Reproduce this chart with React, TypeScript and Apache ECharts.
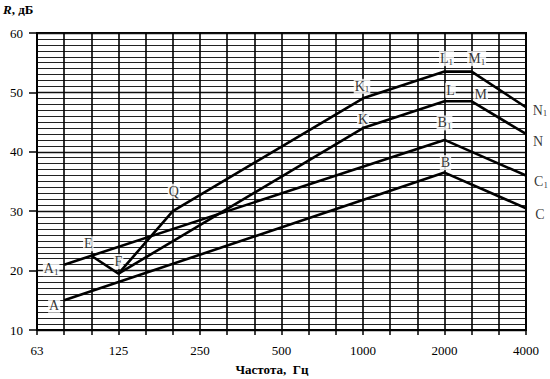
import React, { useEffect, useRef } from 'react';
import * as echarts from 'echarts';

// ---- data ----
const xTickLabels = ['63', '125', '250', '500', '1000', '2000', '4000'];

const curveUpperNames = ['E', 'F', 'Q', 'K1', 'L1', 'M1', 'N1'];
const curveUpperFreqs = [100, 125, 200, 1000, 2000, 2500, 4000];
const curveUpperValues = [22.5, 19.5, 30, 49, 53.5, 53.5, 47.5];

const curveLowerNames = ['F', 'K', 'L', 'M', 'N'];
const curveLowerFreqs = [125, 1000, 2000, 2500, 4000];
const curveLowerValues = [19.5, 44, 48.5, 48.5, 43];

const curveA1Names = ['A1', 'B1', 'C1'];
const curveA1Freqs = [80, 2000, 4000];
const curveA1Values = [21, 42, 36];

const curveANames = ['A', 'B', 'C'];
const curveAFreqs = [80, 2000, 4000];
const curveAValues = [15, 36.5, 30.5];

// ---- label placement (style, not data) ----
const labelOffsets: Record<string, [number, number]> = {
  A: [-10, 5],
  A1: [-13, 4],
  E: [-3, -12],
  F: [0, -12],
  Q: [1, -20],
  K1: [-1, -12],
  K: [0, -9],
  L1: [2, -13],
  M1: [5, -13],
  L: [6, -11],
  M: [9, -7],
  B1: [0, -17],
  B: [1, -10],
  N1: [14, 3],
  N: [12, 8],
  C1: [15, 6],
  C: [14, 6],
};

const FONT = "'Liberation Serif', 'Times New Roman', serif";

// position on an octave axis, snapped to third-octave bands
const octavePos = (f: number) => Math.round(3 * Math.log2(f / 62.5)) / 3;

function buildLine(freqs: number[], values: number[]) {
  return {
    type: 'line',
    showSymbol: false,
    lineStyle: { color: '#000', width: 2.6 },
    clip: false,
    z: 6,
    data: freqs.map((f, i) => [octavePos(f), values[i]]),
  };
}

function buildLabels(names: string[], freqs: number[], values: number[], hideFirstLabel = false) {
  return {
    type: 'scatter',
    symbol: 'circle',
    symbolSize: 1,
    itemStyle: { color: 'rgba(0,0,0,0)' },
    silent: true,
    clip: false,
    z: 4,
    data: names.map((n, i) => ({
      name: n,
      value: [octavePos(freqs[i]), values[i]],
      label: {
        show: !(hideFirstLabel && i === 0),
        offset: labelOffsets[n] || [0, -10],
      },
    })),
    label: {
      show: true,
      position: 'inside',
      align: 'center',
      verticalAlign: 'middle',
      color: '#000',
      backgroundColor: '#fff',
      padding: [0, 1],
      formatter: (p: any) => {
        const name: string = p.name;
        const m = name.match(/^([A-Z])(\d*)$/);
        if (!m) return name;
        return m[2] ? `{m|${m[1]}}{s|${m[2]}}` : `{m|${m[1]}}`;
      },
      rich: {
        m: { fontSize: 14, fontFamily: FONT, color: '#000', lineHeight: 15 },
        s: { fontSize: 9, fontFamily: FONT, color: '#000', lineHeight: 15, verticalAlign: 'bottom', padding: [6, 0, 0, 0] },
      },
    },
  };
}

export default function App() {
  const ref = useRef<HTMLDivElement>(null);

  useEffect(() => {
    if (!ref.current) return;
    const chart = echarts.init(ref.current, undefined, { renderer: 'svg' });
    chart.setOption({
      animation: false,
      backgroundColor: '#fff',
      grid: {
        left: 37,
        right: 24,
        top: 33,
        bottom: 49,
        show: true,
        borderColor: '#000',
        borderWidth: 2,
        backgroundColor: 'transparent',
      },
      xAxis: {
        type: 'value',
        min: 0,
        max: 6,
        interval: 1,
        axisLine: { show: true, lineStyle: { color: '#000', width: 2 } },
        axisTick: { show: true, length: 5, lineStyle: { color: '#000', width: 1.5 } },
        minorTick: { show: true, splitNumber: 3, length: 5, lineStyle: { color: '#000', width: 1.5 } },
        splitLine: { show: true, lineStyle: { color: '#000', width: 1.6 } },
        minorSplitLine: { show: true, lineStyle: { color: '#000', width: 1.6 } },
        axisLabel: {
          margin: 14,
          color: '#000',
          fontSize: 13,
          fontFamily: FONT,
          formatter: (v: number) => xTickLabels[Math.round(v)] ?? '',
        },
      },
      yAxis: {
        type: 'value',
        min: 10,
        max: 60,
        interval: 10,
        axisLine: { show: true, lineStyle: { color: '#000', width: 2 } },
        axisTick: { show: true, length: 8, lineStyle: { color: '#000', width: 1.5 } },
        minorTick: { show: false, splitNumber: 10 },
        splitLine: { show: true, lineStyle: { color: '#111', width: 1.3 } },
        minorSplitLine: { show: true, lineStyle: { color: '#222', width: 1.2 } },
        axisLabel: {
          margin: 14,
          color: '#000',
          fontSize: 13,
          fontFamily: FONT,
        },
      },
      graphic: [
        {
          type: 'text',
          x: 3,
          y: 3,
          style: {
            text: '{i|R}{n|, дБ}',
            rich: {
              i: { fontSize: 13, fontFamily: FONT, fontWeight: 'bold', fontStyle: 'italic', fill: '#000' },
              n: { fontSize: 13, fontFamily: FONT, fontWeight: 'bold', fill: '#000' },
            },
          },
        },
        {
          type: 'text',
          x: 272,
          y: 369,
          style: {
            text: 'Частота,  Гц',
            fill: '#000',
            font: `bold 13px ${FONT}`,
            align: 'center',
            verticalAlign: 'middle',
          },
        },
      ],
      series: [
        buildLine(curveAFreqs, curveAValues),
        buildLine(curveA1Freqs, curveA1Values),
        buildLine(curveLowerFreqs, curveLowerValues),
        buildLine(curveUpperFreqs, curveUpperValues),
        buildLabels(curveANames, curveAFreqs, curveAValues),
        buildLabels(curveA1Names, curveA1Freqs, curveA1Values),
        buildLabels(curveLowerNames, curveLowerFreqs, curveLowerValues, true),
        buildLabels(curveUpperNames, curveUpperFreqs, curveUpperValues),
      ],
    });
    return () => chart.dispose();
  }, []);

  return (
    <div
      ref={ref}
      style={{ position: 'fixed', left: 0, top: 0, width: 550, height: 379, background: '#fff' }}
    />
  );
}
